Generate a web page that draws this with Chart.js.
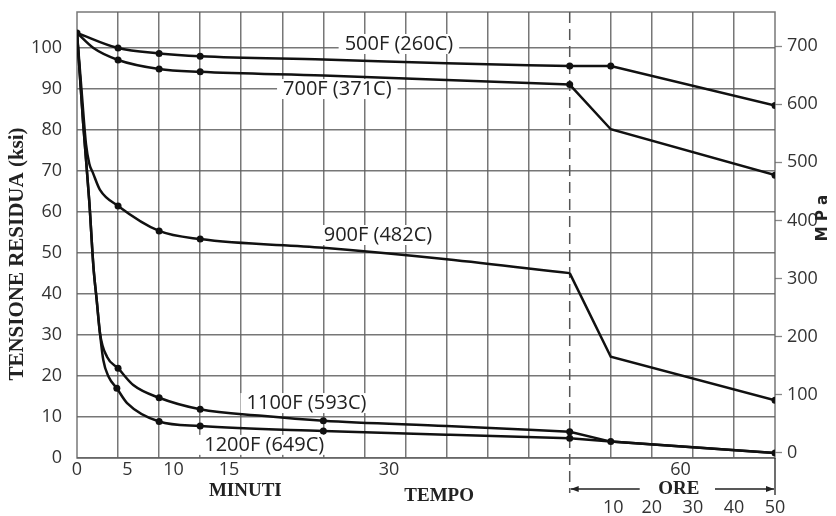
<!DOCTYPE html>
<html><head><meta charset="utf-8">
<script src="https://cdn.jsdelivr.net/npm/chart.js@4.4.1/dist/chart.umd.min.js"></script>
<style>html,body{margin:0;padding:0;background:#fff}</style>
</head><body>
<canvas id="ch" width="836" height="516"></canvas>
<script>
// x is the grid column index (0..17): minutes up to col 12, hours after the dashed line
const minTickPos=[0,1.23,2.35,3.7,7.6,14.7];
const minTickLbl=['0','5','10','15','30','60'];
const oreTickPos=[13.06,14,15,16,17];
const oreTickLbl=['10','20','30','40','50'];
const mpaTicks=[0,100,200,300,400,500,600,700];

// curved part (minutes) and straight part (hours), ksi
const c500=[[0,103.7],[1,100.0],[2,98.7],[3,98.0],[6,97.2],[9,96.3],[12,95.6]];
const s500=[[12,95.6],[13,95.6],[17,86.0]];
const c700=[[0,103.7],[0.4,100.0],[1,97.1],[2,94.9],[3,94.2],[6,93.3],[9,92.2],[12,91.1]];
const s700=[[12,91.1],[13,80.2],[17,69.0]];
const c900=[[0,103.7],[0.12,88.5],[0.22,76.5],[0.3,71.8],[0.39,69.5],[0.56,65.4],[1,61.5],[2,55.4],[3,53.4],[6,51.3],[9,48.5],[12,45.1]];
const s900=[[12,45.1],[13,24.7],[17,14.1]];
const c1100=[[0,103.7],[0.15,81.7],[0.3,62.5],[0.4,46.7],[0.48,38.5],[0.56,30.4],[0.73,24.7],[1,21.9],[1.37,17.8],[2,14.7],[3,11.9],[4.5,10.3],[6,9.1],[9,7.8],[12,6.4]];
const s1100=[[12,6.4],[13,4.0],[17,1.2]];
const c1200=[[0,103.7],[0.15,81.7],[0.3,62.5],[0.4,46.7],[0.48,38.5],[0.56,30.4],[0.64,23.9],[0.77,19.8],[0.97,17.0],[1.22,13.4],[2,8.9],[3,7.8],[6,6.6],[9,5.7],[12,4.8]];
const s1200=[[12,4.8],[13,4.0],[17,1.2]];

// measured points (dots)
const dots=[[0,103.7],
  [1,100.0],[2,98.7],[3,98.0],[12,95.6],[13,95.6],[17,86.0],
  [1,97.1],[2,94.9],[3,94.2],[12,91.1],[17,69.0],
  [1,61.5],[2,55.4],[3,53.4],[17,14.1],
  [1,21.9],[2,14.7],[3,11.9],[6,9.1],[12,6.4],[13,4.0],[17,1.2],
  [0.97,17.0],[2,8.9],[3,7.8],[6,6.6],[12,4.8]];

const seriesLbl=[
  ['500F (260C)',7.84,101.0],
  ['700F (371C)',6.34,90.0],
  ['900F (482C)',7.33,54.4],
  ['1100F (593C)',5.59,13.4],
  ['1200F (649C)',4.56,3.2]];

const INK='#111', GRID='rgba(95,95,95,0.85)', TXT='#333';
const pts=a=>a.map(([x,y])=>({x,y}));
const curve=a=>({data:pts(a),borderColor:INK,borderWidth:2.5,pointRadius:0,cubicInterpolationMode:'monotone',fill:false});
const straight=a=>({data:pts(a),borderColor:INK,borderWidth:2.5,pointRadius:0,tension:0,fill:false});

const ds=[curve(c500),straight(s500),curve(c700),straight(s700),curve(c900),straight(s900),
  curve(c1100),straight(s1100),curve(c1200),straight(s1200),
  {data:pts(dots),showLine:false,pointRadius:3.5,pointBackgroundColor:INK,pointBorderColor:INK,pointBorderWidth:0}];

const deco={
  id:'deco',
  beforeDatasetsDraw(chart){
    const {ctx,chartArea:a,scales:{x,y}}=chart;
    ctx.save();
    ctx.strokeStyle=GRID;ctx.lineWidth=1.5;
    ctx.strokeRect(a.left,a.top,a.right-a.left,a.bottom-a.top);
    // dashed split minutes / hours
    const xd=x.getPixelForValue(12);
    ctx.strokeStyle='#555';ctx.setLineDash([11,6]);
    ctx.beginPath();ctx.moveTo(xd,a.top);ctx.lineTo(xd,a.bottom+35);ctx.stroke();
    ctx.setLineDash([]);
    // series labels on white
    ctx.font='20px "Open Sans"';ctx.textAlign='center';ctx.textBaseline='middle';
    seriesLbl.forEach(([t,vx,vy])=>{
      const px=x.getPixelForValue(vx),py=y.getPixelForValue(vy);
      const w=ctx.measureText(t).width;
      ctx.fillStyle='#fff';ctx.fillRect(px-w/2-6,py-10,w+12,20);
      ctx.fillStyle='#222';ctx.fillText(t,px,py);
    });
    ctx.restore();
  },
  afterDraw(chart){
    const {ctx,chartArea:a,scales:{x}}=chart;
    ctx.save();
    ctx.fillStyle=TXT;ctx.textAlign='center';ctx.textBaseline='middle';
    ctx.font='18px "Open Sans"';
    minTickLbl.forEach((t,i)=>ctx.fillText(t,x.getPixelForValue(minTickPos[i]),a.bottom+12));
    oreTickLbl.forEach((t,i)=>ctx.fillText(t,x.getPixelForValue(oreTickPos[i]),a.bottom+50));
    ctx.fillStyle='#222';
    ctx.font='bold 19px "Liberation Serif"';
    ctx.fillText('MINUTI',x.getPixelForValue(4.1),a.bottom+33);
    ctx.fillText('TEMPO',x.getPixelForValue(8.82),a.bottom+38);
    ctx.fillText('ORE',x.getPixelForValue(14.66),a.bottom+31);
    // ORE arrow
    const x0=x.getPixelForValue(12),x1=x.getPixelForValue(17),ya=a.bottom+31;
    ctx.strokeStyle='#222';ctx.lineWidth=1.3;
    ctx.beginPath();
    ctx.moveTo(x0+1,ya);ctx.lineTo(x0+70,ya);
    ctx.moveTo(x1-60,ya);ctx.lineTo(x1-1,ya);
    ctx.moveTo(x1,a.bottom);ctx.lineTo(x1,a.bottom+37);
    ctx.stroke();
    ctx.fillStyle='#222';
    ctx.beginPath();ctx.moveTo(x0+1,ya);ctx.lineTo(x0+9,ya-3);ctx.lineTo(x0+9,ya+3);ctx.closePath();ctx.fill();
    ctx.beginPath();ctx.moveTo(x1-1,ya);ctx.lineTo(x1-9,ya-3);ctx.lineTo(x1-9,ya+3);ctx.closePath();ctx.fill();
    // axis titles
    ctx.save();
    ctx.translate(18,254);ctx.rotate(-Math.PI/2);
    ctx.font='bold 21px "Liberation Serif"';ctx.fillText('TENSIONE RESIDUA (ksi)',0,0);
    ctx.restore();
    ctx.save();
    ctx.translate(823,218);ctx.rotate(-Math.PI/2);
    ctx.font='bold 15px "DejaVu Sans"';ctx.fillText('M P a',0,0);
    ctx.restore();
    ctx.restore();
  }
};

const noPad=s=>{s.paddingTop=0;s.paddingBottom=0;};

new Chart(document.getElementById('ch'),{
  type:'line',
  data:{datasets:ds},
  options:{
    responsive:false,animation:false,
    layout:{padding:{top:12}},
    plugins:{legend:{display:false},tooltip:{enabled:false}},
    scales:{
      x:{type:'linear',min:0,max:17,
        ticks:{stepSize:1,display:false},
        grid:{drawTicks:false,lineWidth:1.5,color:c=>[0,12,17].includes(c.tick.value)?'rgba(0,0,0,0)':GRID},
        border:{display:false},
        afterFit:s=>{s.height=58;s.paddingLeft=0;s.paddingRight=0;}},
      y:{min:0,max:108.8,
        ticks:{stepSize:10,padding:15,color:TXT,font:{family:'Open Sans',size:18}},
        afterBuildTicks:s=>{s.ticks=s.ticks.filter(t=>t.value<=100.01);},
        grid:{drawTicks:false,lineWidth:1.5,color:GRID},
        border:{display:false},
        afterFit:s=>{s.width=77;noPad(s);}},
      y2:{position:'right',min:-8.6,max:758.5,
        afterBuildTicks:s=>{s.ticks=mpaTicks.map(v=>({value:v}));},
        ticks:{padding:5,color:TXT,font:{family:'Open Sans',size:18}},
        grid:{drawOnChartArea:false,drawTicks:true,tickLength:7,tickWidth:1.3,tickColor:'#888'},
        border:{display:false},
        afterFit:s=>{s.width=61;noPad(s);}}
    }
  },
  plugins:[deco]
});
</script></body></html>
